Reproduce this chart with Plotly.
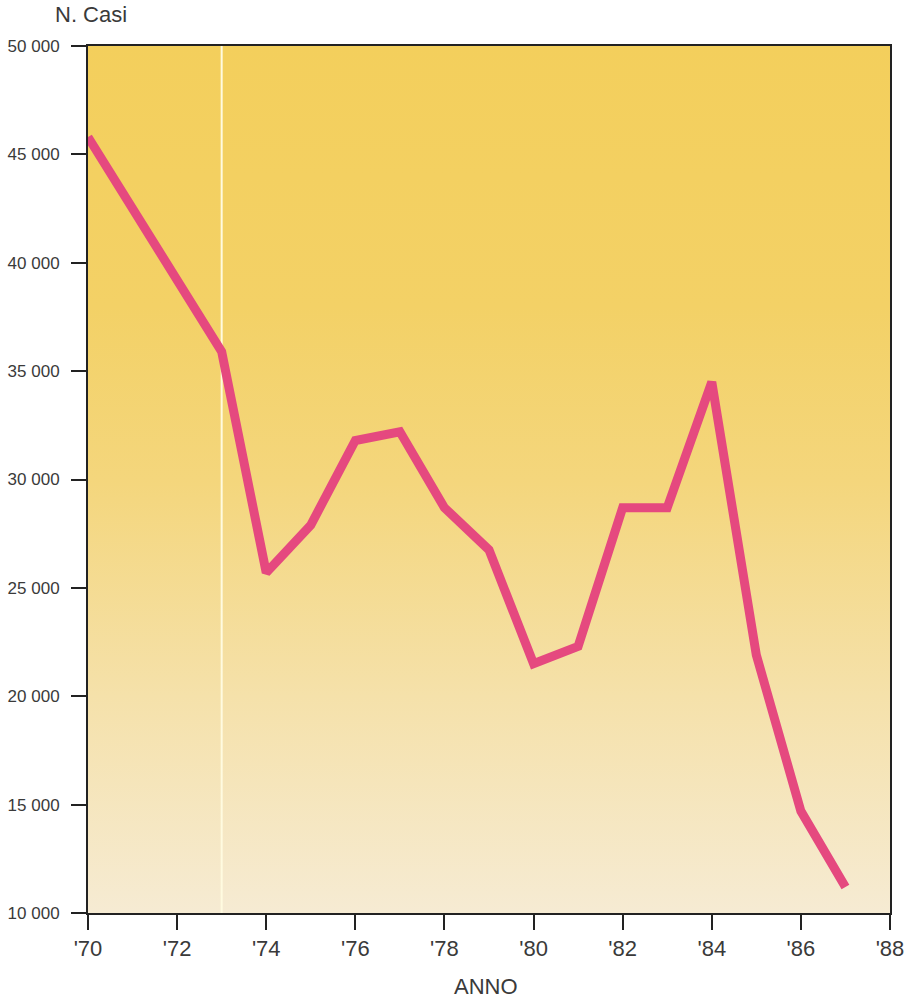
import plotly.graph_objects as go

years = [1970, 1973, 1974, 1975, 1976, 1977, 1978, 1979, 1980, 1981, 1982, 1983, 1984, 1985, 1986, 1987]
cases = [45800, 35900, 25700, 27900, 31800, 32200, 28700, 26750, 21500, 22300, 28700, 28700, 34500, 21900, 14700, 11200]

y_ticks = [10000, 15000, 20000, 25000, 30000, 35000, 40000, 45000, 50000]
y_ticktext = ["10 000", "15 000", "20 000", "25 000", "30 000", "35 000", "40 000", "45 000", "50 000"]
x_ticks = [1970, 1972, 1974, 1976, 1978, 1980, 1982, 1984, 1986, 1988]
x_ticktext = ["'70", "'72", "'74", "'76", "'78", "'80", "'82", "'84", "'86", "'88"]

x_range = [1970, 1988]
y_range = [10000, 50000]
marker_year = 1973

FONT = "Liberation Sans, Arial, sans-serif"
TXT = "#3a3a3a"

fig = go.Figure()

# gradient background
fig.add_trace(go.Scatter(
    x=[x_range[0], x_range[1], x_range[1], x_range[0], x_range[0]],
    y=[y_range[0], y_range[0], y_range[1], y_range[1], y_range[0]],
    mode="lines", line=dict(width=0), fill="toself",
    fillgradient=dict(type="vertical", start=y_range[0], stop=y_range[1],
                      colorscale=[[0, "#F6EBD3"], [0.25, "#F5E1AA"], [0.5, "#F4D67C"],
                                  [0.7, "#F3D166"], [1, "#F3CF5C"]]),
    hoverinfo="skip", showlegend=False,
))

# white vertical line
fig.add_trace(go.Scatter(
    x=[marker_year, marker_year], y=y_range, mode="lines",
    line=dict(color="#FFFBE0", width=2), hoverinfo="skip", showlegend=False,
))

fig.add_trace(go.Scatter(
    x=years, y=cases, mode="lines",
    line=dict(color="#E5497F", width=9),
    showlegend=False,
))

fig.update_layout(
    width=905, height=1001,
    margin=dict(l=88, r=15, t=46, b=88),
    paper_bgcolor="white", plot_bgcolor="white",
    font=dict(family=FONT, color=TXT),
    xaxis=dict(range=x_range, tickvals=x_ticks, ticktext=x_ticktext, automargin=False,
               showgrid=False, zeroline=False, ticks="outside", ticklen=15, tickwidth=2,
               tickcolor="#222", showline=True, linecolor="#222", linewidth=2, mirror=True,
               tickfont=dict(size=22, color=TXT, family=FONT), ticklabelstandoff=0),
    yaxis=dict(range=y_range, tickvals=y_ticks, ticktext=y_ticktext, automargin=False,
               showgrid=False, zeroline=False, ticks="outside", ticklen=15, tickwidth=2,
               tickcolor="#222", showline=True, linecolor="#222", linewidth=2, mirror=True,
               tickfont=dict(size=17, color=TXT, family=FONT), ticklabelstandoff=8),
    annotations=[
        dict(text="ANNO", xref="paper", yref="paper", x=0.496, y=-0.085,
             xanchor="center", yanchor="middle", showarrow=False,
             font=dict(size=22, color=TXT, family=FONT)),
        dict(text="N. Casi", xref="paper", yref="paper", x=-0.044, y=1.036,
             xanchor="left", yanchor="middle", showarrow=False,
             font=dict(size=22, color=TXT, family=FONT)),
    ],
)

fig.write_html("out.html")
